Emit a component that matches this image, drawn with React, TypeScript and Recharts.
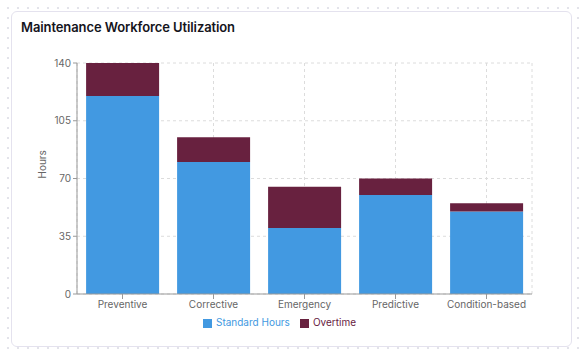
import React from "react";
import { BarChart, Bar, XAxis, YAxis, CartesianGrid, Legend } from "recharts";

const categories = ["Preventive", "Corrective", "Emergency", "Predictive", "Condition-based"];
const standardHours = [120, 80, 40, 60, 50];
const overtime = [20, 15, 25, 10, 5];
const yTicks = [0, 35, 70, 105, 140];
const seriesOrder = ["Standard Hours", "Overtime"];

const data = categories.map((name, i) => ({
  name,
  standard: standardHours[i],
  overtime: overtime[i],
}));

const FONT = "Inter, 'Noto Sans', sans-serif";

export default function App() {
  return (
    <div style={{ position: "relative", width: 584, height: 357, fontFamily: FONT }}>
      <style>{`body{margin:0;background-color:#fff;background-image:radial-gradient(#e3e3ea 1px, transparent 1.2px);background-size:10px 10px;background-position:3px 3px;}`}</style>
      <div
        style={{
          position: "absolute",
          left: 11,
          top: 11,
          width: 559,
          height: 334,
          border: "1px solid #e4e2ee",
          borderRadius: 6,
          background: "#fff",
        }}
      >
        <div
          style={{
            position: "absolute",
            left: 9,
            top: 7,
            fontSize: 13,
            fontWeight: 600,
            color: "#14141c",
            letterSpacing: -0.1,
          }}
        >
          Maintenance Workforce Utilization
        </div>
        <div style={{ position: "absolute", left: 0, top: 33 }}>
          <BarChart
            width={548}
            height={288}
            data={data}
            margin={{ top: 18, right: 28, left: 25, bottom: 5 }}
          >
            <CartesianGrid strokeDasharray="3 3" stroke="#dcdcdc" />
            <XAxis
              dataKey="name"
              height={22}
              tick={{ fontSize: 10, fill: "#666", fontFamily: FONT }}
              stroke="#999"
              tickSize={5}
            />
            <YAxis
              width={40}
              ticks={yTicks}
              domain={[0, 140]}
              tick={{ fontSize: 10, fill: "#666", fontFamily: FONT }}
              stroke="#999"
              tickSize={4}
              label={{
                value: "Hours",
                angle: -90,
                position: "insideLeft",
                style: { fontSize: 10, fill: "#666", fontFamily: FONT },
              }}
            />
            <Legend
              iconType="square"
              iconSize={9}
              itemSorter={(item: any) => seriesOrder.indexOf(item.value)}
              wrapperStyle={{ fontSize: 10, fontFamily: FONT }}
            />
            <Bar dataKey="standard" name="Standard Hours" stackId="a" fill="#4299e1" isAnimationActive={false} />
            <Bar dataKey="overtime" name="Overtime" stackId="a" fill="#68213f" isAnimationActive={false} />
          </BarChart>
        </div>
      </div>
    </div>
  );
}
